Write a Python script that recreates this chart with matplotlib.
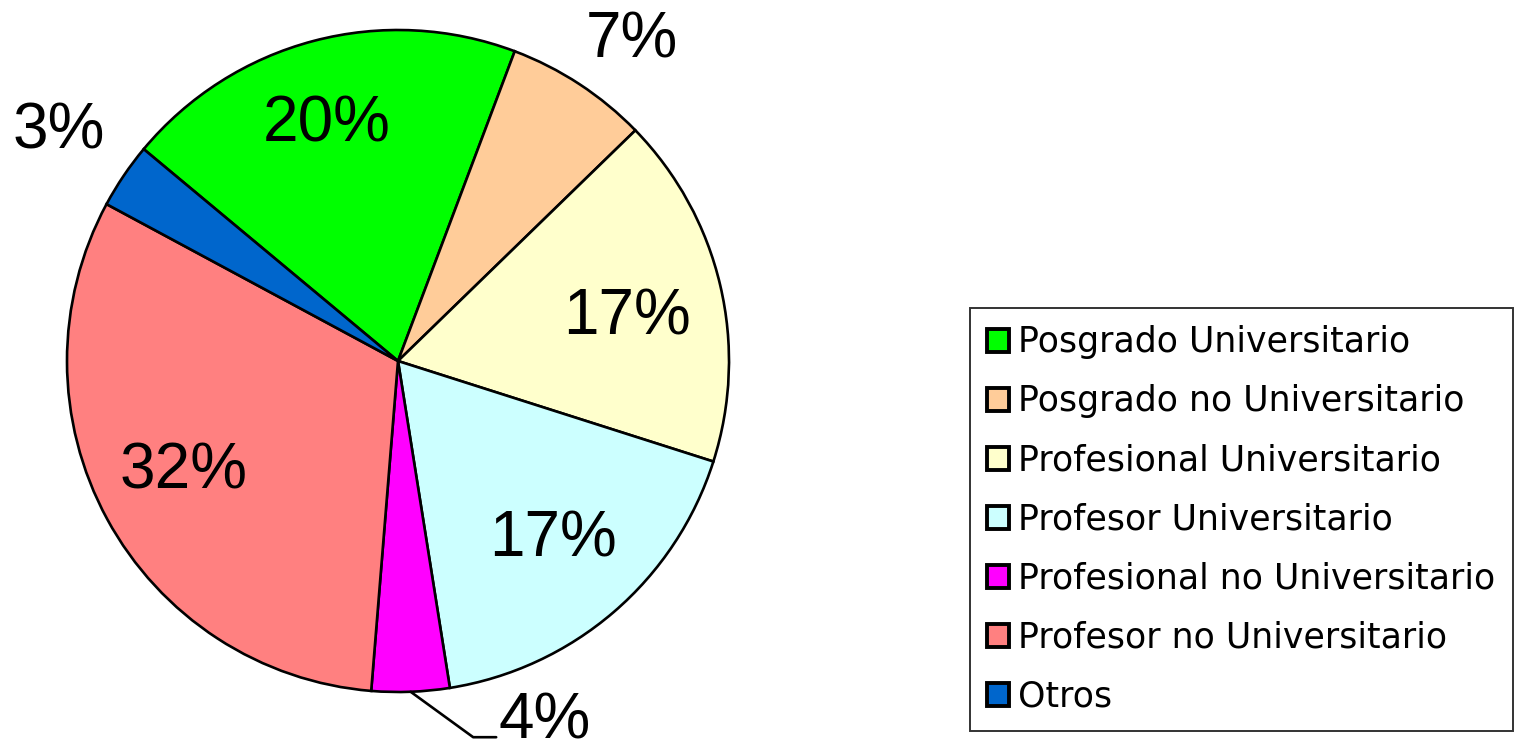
import matplotlib
matplotlib.use("Agg")
import matplotlib.pyplot as plt
import numpy as np

categories = ["Posgrado Universitario", "Posgrado no Universitario", "Profesional Universitario",
              "Profesor Universitario", "Profesional no Universitario", "Profesor no Universitario", "Otros"]
values = [19.7, 7.0, 17.2, 17.6, 3.8, 31.6, 3.2]
labels = ["20%", "7%", "17%", "17%", "4%", "32%", "3%"]
colors = ["#00FF00", "#FFCC99", "#FFFFCC", "#CCFFFF", "#FF00FF", "#FF8080", "#0066CC"]

plt.rcParams['font.family'] = ['Liberation Sans', 'DejaVu Sans']

fig = plt.figure(figsize=(15.23, 7.42), dpi=100)
W, H = 1523, 742
cx, cy, R = 398, 742 - 361, 331
ax = fig.add_axes([(cx - R) / W, (cy - R) / H, 2 * R / W, 2 * R / H])

wedges, _ = ax.pie(values, colors=colors, startangle=140.2, counterclock=False,
                   wedgeprops=dict(edgecolor="black", linewidth=1.9))
ax.set_xlim(-1, 1)
ax.set_ylim(-1, 1)
ax.set_aspect("equal")
ax.axis("off")

fs = 46
# label placement: (radius, angle offset from wedge middle in degrees)
label_place = [(0.747, 2.0), (1.20, -2.9), (0.705, -2.5), (0.715, 0.4), None, (0.728, -1.3), (1.237, 0.0)]
for w, lab, place in zip(wedges, labels, label_place):
    midd = (w.theta1 + w.theta2) / 2
    if place is None:
        mid = np.deg2rad(midd)
        ex, ey = np.cos(mid), np.sin(mid)
        ax.annotate(lab, xy=(ex, ey), xytext=(0.305, -0.997), ha="left", va="top",
                    fontsize=fs, annotation_clip=False,
                    arrowprops=dict(arrowstyle="-", color="black", lw=1.9,
                                    connectionstyle="angle,angleA=0,angleB=-36",
                                    relpos=(0, 0.23), shrinkA=0, shrinkB=0))
    else:
        r, off = place
        a = np.deg2rad(midd + off)
        ax.text(r * np.cos(a), r * np.sin(a), lab, ha="center", va="center", fontsize=fs)

leg = fig.legend(wedges, categories, loc="upper left",
                 bbox_to_anchor=(970 / W, 1 - 308 / H), bbox_transform=fig.transFigure,
                 prop=dict(family="DejaVu Sans", size=25), frameon=True, fancybox=False,
                 edgecolor="black",
                 handlelength=0.63, handleheight=0.63, handletextpad=0.26,
                 labelspacing=0.72, borderpad=0.5, borderaxespad=0)
leg.get_frame().set_linewidth(1.4)
for h in leg.legend_handles:
    h.set_linewidth(2.8)

fig.savefig("out.png", dpi=100)
